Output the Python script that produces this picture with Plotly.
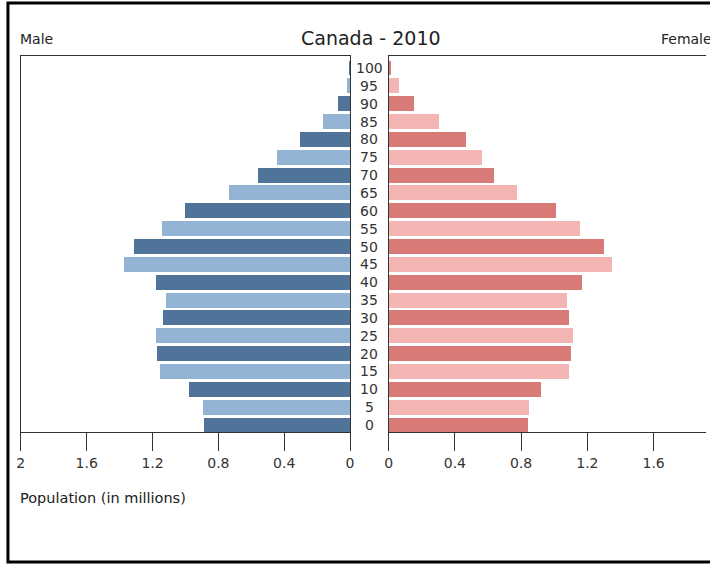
import plotly.graph_objects as go

ages = [0, 5, 10, 15, 20, 25, 30, 35, 40, 45, 50, 55, 60, 65, 70, 75, 80, 85, 90, 95, 100]
male = [0.889, 0.895, 0.979, 1.153, 1.171, 1.177, 1.135, 1.117, 1.177, 1.375, 1.311,
        1.141, 1.003, 0.739, 0.560, 0.444, 0.308, 0.164, 0.074, 0.022, 0.005]
female = [0.841, 0.848, 0.919, 1.087, 1.099, 1.110, 1.087, 1.075, 1.164, 1.349, 1.297,
          1.154, 1.007, 0.770, 0.635, 0.563, 0.464, 0.299, 0.149, 0.058, 0.010]
x_ticks = [0, 0.4, 0.8, 1.2, 1.6, 2]
x_tick_labels = ["0", "0.4", "0.8", "1.2", "1.6", "2"]

male_dark, male_light = "#4f7399", "#94b4d5"
female_dark, female_light = "#d87a76", "#f4b6b4"

W, H = 710, 564
def px(x):
    return x / W
def py(y):
    return 1 - y / H

male_colors = [male_dark if i % 2 == 0 else male_light for i in range(len(ages))]
female_colors = [female_dark if i % 2 == 0 else female_light for i in range(len(ages))]

fig = go.Figure()
fig.add_trace(go.Bar(x=male, y=ages, orientation="h", width=4.2,
                     marker=dict(color=male_colors, line=dict(width=0)),
                     xaxis="x", yaxis="y", showlegend=False, hoverinfo="x+y"))
fig.add_trace(go.Bar(x=female, y=ages, orientation="h", width=4.2,
                     marker=dict(color=female_colors, line=dict(width=0)),
                     xaxis="x2", yaxis="y2", showlegend=False, hoverinfo="x+y"))

axis_color = "#333333"
tick_font = dict(family="DejaVu Sans", size=14, color="#333333")
ydom = [py(432), py(56)]
yrange = [-1.96, 103.36]

fig.update_layout(
    width=W, height=H,
    margin=dict(l=0, r=0, t=0, b=0),
    paper_bgcolor="white", plot_bgcolor="white",
    bargap=0,
    xaxis=dict(domain=[px(17), px(350)], range=[2, 0], tickvals=x_ticks, ticktext=x_tick_labels,
               ticks="outside", ticklen=18, tickcolor=axis_color, tickfont=tick_font,
               showline=True, linecolor=axis_color, linewidth=1, mirror=True,
               showgrid=False, zeroline=False, fixedrange=True),
    yaxis=dict(domain=ydom, range=yrange, showticklabels=False, ticks="",
               showline=True, linecolor=axis_color, linewidth=1, mirror=True,
               showgrid=False, zeroline=False, fixedrange=True),
    xaxis2=dict(domain=[px(389), 1], range=[0, (W - 389) / 167.5], tickvals=x_ticks, ticktext=x_tick_labels,
                ticks="outside", ticklen=18, tickcolor=axis_color, tickfont=tick_font,
                showline=True, linecolor=axis_color, linewidth=1, mirror=True,
                showgrid=False, zeroline=False, anchor="y2", fixedrange=True),
    yaxis2=dict(domain=ydom, range=yrange, showticklabels=False, ticks="",
                showline=True, linecolor=axis_color, linewidth=1, mirror=False,
                showgrid=False, zeroline=False, anchor="x2", fixedrange=True),
)

annotations = []
for a in ages:
    annotations.append(dict(x=px(369.5), xref="paper", y=a, yref="y", text=str(a),
                            showarrow=False, xanchor="center", yanchor="middle",
                            font=tick_font))
annotations.append(dict(x=px(371), xref="paper", y=py(38), yref="paper", text="Canada - 2010",
                        showarrow=False, xanchor="center", yanchor="middle",
                        font=dict(family="DejaVu Sans", size=19, color="#222222")))
annotations.append(dict(x=px(14), xref="paper", y=py(39), yref="paper", text="Male",
                        showarrow=False, xanchor="left", yanchor="middle",
                        font=dict(family="DejaVu Sans", size=14, color="#222222")))
annotations.append(dict(x=px(662), xref="paper", y=py(39), yref="paper", text="Female",
                        showarrow=False, xanchor="left", yanchor="middle",
                        font=dict(family="DejaVu Sans", size=14, color="#222222")))
annotations.append(dict(x=px(14), xref="paper", y=py(498), yref="paper", text="Population (in millions)",
                        showarrow=False, xanchor="left", yanchor="middle",
                        font=dict(family="DejaVu Sans", size=14.5, color="#222222")))
fig.update_layout(annotations=annotations)

fig.add_shape(type="rect", xref="paper", yref="paper", x0=px(4), x1=px(760), y0=py(562), y1=py(3),
              line=dict(color="black", width=3), fillcolor="rgba(0,0,0,0)", layer="above")

fig.write_html("out.html", config={"displayModeBar": False},
               post_script="document.body.style.margin='0';document.body.style.overflow='hidden';")
